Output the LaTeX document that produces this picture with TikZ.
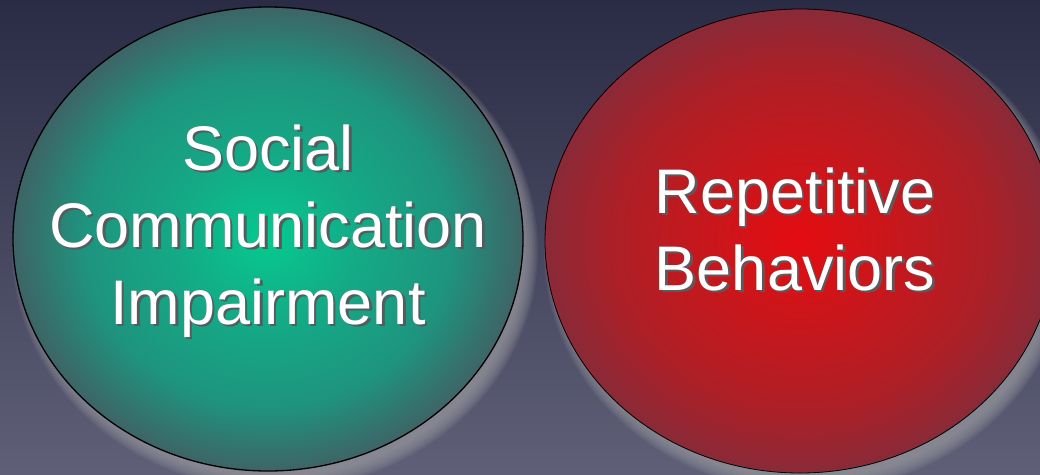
\documentclass[tikz,border=0pt]{standalone}
\usepackage{fontspec}
\setmainfont{Liberation Sans}
\usetikzlibrary{shapes.geometric}

\definecolor{bgtop}{HTML}{2A2B44}
\definecolor{bgbot}{HTML}{5F6078}
\definecolor{halo}{HTML}{9A9AA0}
\definecolor{txtshadow}{HTML}{5A5A5E}
\definecolor{gA}{HTML}{06C98F}
\definecolor{gB}{HTML}{14AA86}
\definecolor{gC}{HTML}{1E947E}
\definecolor{gD}{HTML}{3E6466}
\definecolor{rA}{HTML}{E40C10}
\definecolor{rB}{HTML}{C8171C}
\definecolor{rC}{HTML}{AE1F26}
\definecolor{rD}{HTML}{8A2A38}

% radial fills: 25bp is the rim of the ellipse
\pgfdeclareradialshading{greenglow}{\pgfpoint{0bp}{0bp}}{%
  color(0bp)=(gA); color(9bp)=(gB); color(18bp)=(gC); color(25bp)=(gD); color(50bp)=(gD)}
\pgfdeclareradialshading{redglow}{\pgfpoint{0bp}{0bp}}{%
  color(0bp)=(rA); color(9bp)=(rB); color(18bp)=(rC); color(25bp)=(rD); color(50bp)=(rD)}

\tikzset{
  bubble/.style={ellipse, draw=black, minimum width=510pt, minimum height=464pt, inner sep=0pt},
  caption/.style={align=center, text=white, inner sep=0pt,
    font=\fontsize{63}{77}\selectfont},
  captionshadow/.style={caption, text=txtshadow},
}

\begin{document}
\begin{tikzpicture}[x=1pt,y=-1pt]
\useasboundingbox (0,0) rectangle (1040,474);
\clip (0,0) rectangle (1040,474);
% backdrop
\shade[top color=bgtop, bottom color=bgbot] (0,0) rectangle (1040,474);

% soft light halos below and right of the bubbles
\foreach \cx/\cy in {268/239, 800/241}{
  \foreach \k in {0,...,9}{
    \fill[halo, opacity=0.12] (\cx+7,\cy+11) ellipse ({255+8-1.5*\k} and {232+8-1.5*\k});
  }
}

% bubbles
\node[bubble, line width=1.3pt, shading=greenglow] (social) at (268,239) {};
\node[bubble, line width=0.8pt, shading=redglow] (repetitive) at (800,241) {};

% captions
\node[captionshadow] (socialshadow) at (270.5,233.5) {Social\\Communication\\Impairment};
\node[caption] (socialtext) at (268,231) {Social\\Communication\\Impairment};
\node[captionshadow] (repetitiveshadow) at (797.5,231.5) {Repetitive\\Behaviors};
\node[caption] (repetitivetext) at (795,229) {Repetitive\\Behaviors};
\end{tikzpicture}
\end{document}
